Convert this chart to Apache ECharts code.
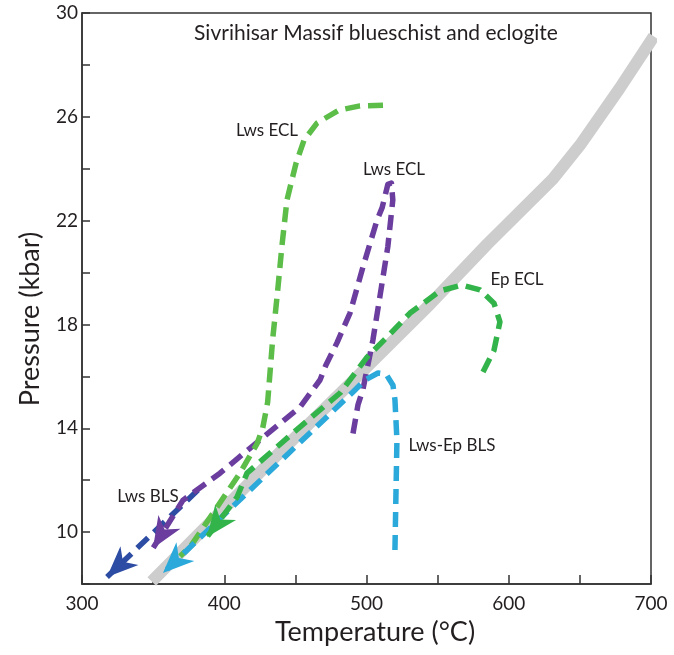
<!DOCTYPE html>
<html>
<head>
<meta charset="utf-8">
<script src="https://cdn.jsdelivr.net/npm/echarts@6/dist/echarts.min.js"></script>
<style>
  html, body { margin: 0; padding: 0; background: #fff; }
  #chart { width: 674px; height: 655px; }
</style>
</head>
<body>
<div id="chart"></div>
<script>
// P-T paths, each point is [temperature °C, pressure kbar]
const greyBand = [[349, 8.1], [434, 12.8], [490, 15.8], [545, 18.8], [585, 21.1], [631, 23.6], [650, 24.9], [678, 27.1], [702, 29.1]]
const lwsEclGreen = [[511.6, 26.45], [495.4, 26.42], [480.7, 26.26], [465.2, 25.76], [456.1, 25.1], [450.4, 24.2], [444.1, 22.8],
  [440.5, 21.0], [437.8, 19.44], [434, 17.4], [430.5, 15.0], [427, 14.0], [423, 13.4], [411, 12.27], [392.1, 10.73], [375.9, 9.42], [368.9, 9.07]]
const lwsEclPurple = [[490.5, 13.8], [494, 14.9], [497.5, 15.5], [504.5, 17.4], [509.5, 19.1], [515, 21.0], [518.5, 22.8], [517.5, 23.45],
  [515, 23.4], [511, 22.5], [507.4, 22.02], [497.5, 20.21], [488.4, 18.44], [479.3, 17.3], [471.5, 16.44], [467.3, 15.86], [453.3, 14.82],
  [425.1, 13.55], [397, 12.27], [371, 11.23], [349.9, 9.38]]
const lwsBls = [[381.5, 11.62], [317.6, 8.27]]
const epEcl = [[581.9, 16.17], [589.6, 17.0], [593.8, 18.1], [589.6, 18.82], [579.8, 19.33], [567.1, 19.52], [551.7, 19.29], [530.6, 18.44],
  [514.4, 17.51], [500.4, 16.74], [481.4, 15.36], [448.3, 13.82], [416, 12.27], [409, 11.35], [387.9, 9.81]]
const lwsEpBls = [[520, 9.31], [521.4, 13.55], [520, 15.09], [518.6, 15.66], [513.7, 16.09], [508.1, 16.13], [499, 15.86], [490.5, 15.4], [356.9, 8.42]]

const xLabels = [300, 400, 500, 600, 700]
const yLabels = [10, 14, 18, 22, 26, 30]

const FONT = 'Lato, "Open Sans", sans-serif'
const TXT = '#231f20'

const paths = [
  { name: 'grey', data: greyBand, color: '#cdcdcd', width: 12, dashed: false, arrow: false },
  { name: 'lwsBls', data: lwsBls, color: '#2d4ca3', width: 5.5, dashed: true, arrow: true },
  { name: 'lwsEclPurple', data: lwsEclPurple, color: '#6a3d9e', width: 5.5, dashed: true, arrow: true },
  { name: 'lwsEclGreen', data: lwsEclGreen, color: '#5cbd48', width: 5.5, dashed: true, arrow: false },
  { name: 'lwsEpBls', data: lwsEpBls, color: '#2aa9da', width: 5.5, dashed: true, arrow: true },
  { name: 'epEcl', data: epEcl, color: '#33b44a', width: 5.5, dashed: true, arrow: true },
]

const series = paths.map(p => ({
  name: p.name,
  type: 'line',
  data: p.data,
  showSymbol: false,
  symbol: 'none',
  silent: true,
  z: p.dashed ? 3 : 2,
  lineStyle: {
    color: p.color,
    width: p.width,
    type: p.dashed ? [15, 8] : 'solid',
    cap: 'butt',
    join: 'round',
  },
}))

// arrowheads: [tipT, tipP, prevT, prevP] -> filled notched triangle pointing along the last segment
const arrowData = paths.filter(p => p.arrow).map(p => {
  const tip = p.data[p.data.length - 1], prev = p.data[p.data.length - 2]
  return { value: [tip[0], tip[1], prev[0], prev[1]], itemStyle: { color: p.color } }
})

series.push({
  name: 'arrows',
  type: 'custom',
  silent: true,
  z: 4,
  data: arrowData,
  renderItem: (params, api) => {
    const tip = api.coord([api.value(0), api.value(1)])
    const prev = api.coord([api.value(2), api.value(3)])
    const len = Math.hypot(tip[0] - prev[0], tip[1] - prev[1])
    const ux = (tip[0] - prev[0]) / len, uy = (tip[1] - prev[1]) / len
    const nx = -uy, ny = ux
    const L = 31, W = 13, N = 9
    const pts = [
      tip,
      [tip[0] - ux * L + nx * W, tip[1] - uy * L + ny * W],
      [tip[0] - ux * (L - N), tip[1] - uy * (L - N)],
      [tip[0] - ux * L - nx * W, tip[1] - uy * L - ny * W],
    ]
    return { type: 'polygon', shape: { points: pts }, style: { fill: api.visual('color') } }
  },
})

function label(text, x, y, size) {
  return {
    type: 'text', x, y,
    style: { text, fill: TXT, font: `${size}px ${FONT}`, textAlign: 'center', textVerticalAlign: 'middle' },
  }
}

const chart = echarts.init(document.getElementById('chart'), null, { renderer: 'canvas' })
chart.setOption({
  animation: false,
  grid: { left: 82, right: 23, top: 13, bottom: 71, show: true, borderColor: '#333', borderWidth: 1.5 },
  xAxis: {
    type: 'value', min: 300, max: 700, interval: 50,
    axisLine: { show: true, lineStyle: { color: '#333', width: 1.5 } },
    axisTick: { show: true, inside: true, length: 9, lineStyle: { color: '#333', width: 1.5 } },
    splitLine: { show: false },
    axisLabel: {
      color: TXT, fontFamily: FONT, fontSize: 19, margin: 10,
      formatter: v => (xLabels.includes(v) ? String(v) : ''),
    },
  },
  yAxis: {
    type: 'value', min: 8, max: 30, interval: 2,
    axisLine: { show: true, lineStyle: { color: '#333', width: 1.5 } },
    axisTick: { show: true, inside: true, length: 8, lineStyle: { color: '#333', width: 1.5 } },
    splitLine: { show: false },
    axisLabel: {
      color: TXT, fontFamily: FONT, fontSize: 19, margin: 4,
      formatter: v => (yLabels.includes(v) ? String(v) : ''),
    },
  },
  graphic: [
    label('Sivrihisar Massif blueschist and eclogite', 376, 33, 21),
    label('Lws ECL', 267, 131, 17),
    label('Lws ECL', 394, 170, 17),
    label('Ep ECL', 517, 280, 17),
    label('Lws-Ep BLS', 452, 446, 17),
    label('Lws BLS', 148, 497, 17),
    label('Temperature (°C)', 375, 632, 27),
    { type: 'text', x: 30, y: 319, rotation: Math.PI / 2,
      style: { text: 'Pressure (kbar)', fill: TXT, font: `27px ${FONT}`, textAlign: 'center', textVerticalAlign: 'middle' } },
  ],
  series,
})
</script>
</body>
</html>
